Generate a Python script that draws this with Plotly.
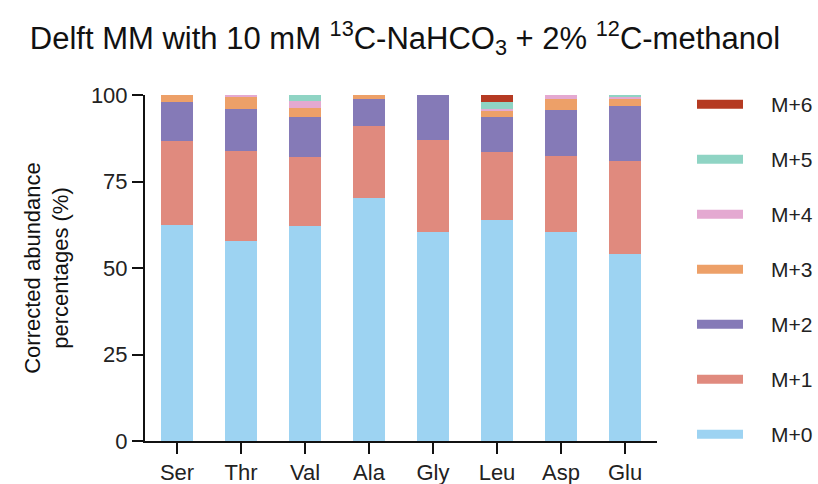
import plotly.graph_objects as go

categories = ["Ser", "Thr", "Val", "Ala", "Gly", "Leu", "Asp", "Glu"]
series_names = ["M+0", "M+1", "M+2", "M+3", "M+4", "M+5", "M+6"]
m0 = [62.4, 57.7, 62.1, 70.1, 60.4, 64.0, 60.4, 54.0]
m1 = [24.3, 26.1, 20.1, 21.0, 26.6, 19.4, 21.9, 27.0]
m2 = [11.3, 12.1, 11.4, 7.7, 13.0, 10.3, 13.4, 15.8]
m3 = [2.0, 3.4, 2.5, 1.2, 0.0, 1.9, 3.1, 2.0]
m4 = [0.0, 0.7, 2.2, 0.0, 0.0, 0.4, 1.2, 0.9]
m5 = [0.0, 0.0, 1.7, 0.0, 0.0, 2.1, 0.0, 0.3]
m6 = [0.0, 0.0, 0.0, 0.0, 0.0, 1.9, 0.0, 0.0]
series_values = [m0, m1, m2, m3, m4, m5, m6]
colors = ["#9dd3f2", "#e08a7e", "#857ab7", "#eda068", "#e4a9d1", "#8fd4c4", "#b53a22"]
y_ticks = [0, 25, 50, 75, 100]

FONT = "Liberation Sans, Arial, sans-serif"

fig = go.Figure()
for name, vals, col in zip(series_names, series_values, colors):
    fig.add_trace(go.Bar(x=categories, y=vals, name=name, marker_color=col,
                         marker_line_width=0, showlegend=False))

# plot geometry (pixels)
W, H = 818, 484
ml, mr, mt, mb = 145, 161, 95, 43
pw = W - ml - mr
ph = H - mt - mb

def px2paper_x(px):
    return (px - ml) / pw

def px2paper_y(py):
    return (H - mb - py) / ph

shapes = []
annotations = []
leg_y0 = 104.3
leg_dy = 55.0
for i, (name, col) in enumerate(zip(reversed(series_names), reversed(colors))):
    cy = leg_y0 + i * leg_dy
    shapes.append(dict(type="rect", xref="paper", yref="paper",
                       x0=px2paper_x(697), x1=px2paper_x(743),
                       y0=px2paper_y(cy + 4.5), y1=px2paper_y(cy - 4.5),
                       fillcolor=col, line_width=0))
    annotations.append(dict(xref="paper", yref="paper", x=px2paper_x(769),
                            y=px2paper_y(cy), text=name, showarrow=False,
                            xanchor="left", yanchor="middle",
                            font=dict(family=FONT, size=21, color="#222")))

fig.update_layout(
    barmode="stack",
    bargap=0.5,
    width=W, height=H,
    margin=dict(l=ml, r=mr, t=mt, b=mb, pad=0, autoexpand=False),
    plot_bgcolor="white", paper_bgcolor="white",
    font=dict(family=FONT, size=21, color="#222"),
    title=dict(text="Delft MM with 10 mM <sup>13</sup>C-NaHCO<sub>3</sub> + 2% <sup>12</sup>C-methanol",
               x=405 / W, xanchor="center", y=1 - 38 / H, yanchor="middle",
               xref="container", yref="container",
               font=dict(family=FONT, size=31, color="#111")),
    shapes=shapes,
    annotations=annotations,
)
fig.update_xaxes(range=[-0.5, 7.5], showline=True, linecolor="#111", linewidth=2,
                 ticks="outside", ticklen=11, tickwidth=2, tickcolor="#111",
                 tickfont=dict(family=FONT, size=22, color="#222"), showgrid=False,
                 zeroline=False, automargin=False)
fig.update_yaxes(range=[0, 100], tickvals=y_ticks, showline=True, linecolor="#111",
                 linewidth=2, ticks="outside", ticklen=11, tickwidth=2, tickcolor="#111",
                 tickfont=dict(family=FONT, size=22, color="#222"), showgrid=False,
                 zeroline=False, automargin=False,
                 title=dict(text="Corrected abundance<br>percentages (%)", standoff=16,
                            font=dict(family=FONT, size=22, color="#111")))

fig.write_html("out.html", config={"displayModeBar": False},
               post_script="document.body.style.margin='0';document.body.style.padding='0';")
